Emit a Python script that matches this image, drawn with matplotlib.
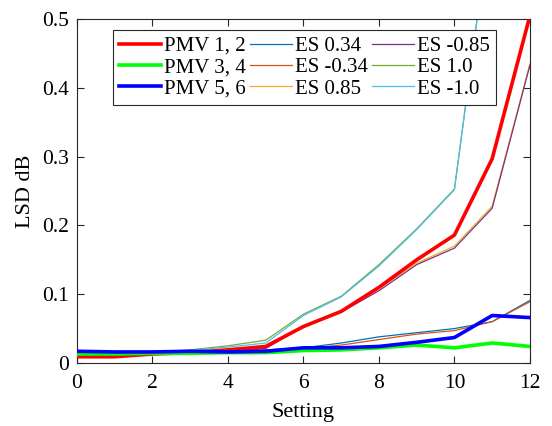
import matplotlib
matplotlib.use('Agg')
import matplotlib.pyplot as plt

plt.rcParams['font.family'] = ['Liberation Serif', 'DejaVu Serif']

setting = list(range(13))

pmv_12 = [0.009, 0.009, 0.013, 0.015, 0.019, 0.024, 0.053, 0.075, 0.110, 0.150, 0.186, 0.297, 0.505]
pmv_34 = [0.013, 0.013, 0.014, 0.014, 0.015, 0.015, 0.018, 0.019, 0.022, 0.026, 0.022, 0.029, 0.024]
pmv_56 = [0.017, 0.016, 0.016, 0.017, 0.016, 0.017, 0.022, 0.022, 0.024, 0.030, 0.037, 0.069, 0.066]

es_p034 = [0.013, 0.013, 0.014, 0.017, 0.018, 0.019, 0.022, 0.029, 0.038, 0.044, 0.050, 0.060, 0.091]
es_m034 = [0.009, 0.010, 0.014, 0.016, 0.017, 0.018, 0.021, 0.026, 0.034, 0.042, 0.047, 0.060, 0.089]
es_p085 = [0.010, 0.011, 0.013, 0.015, 0.018, 0.022, 0.054, 0.075, 0.108, 0.145, 0.170, 0.228, 0.435]
es_m085 = [0.010, 0.011, 0.013, 0.015, 0.017, 0.021, 0.053, 0.074, 0.105, 0.143, 0.167, 0.225, 0.433]
es_p100 = [0.011, 0.012, 0.015, 0.019, 0.025, 0.033, 0.071, 0.097, 0.143, 0.195, 0.253, 0.665, 1.0]
es_m100 = [0.011, 0.012, 0.015, 0.018, 0.023, 0.029, 0.069, 0.096, 0.141, 0.194, 0.252, 0.665, 1.0]

fig = plt.figure(figsize=(5.52, 4.26), dpi=100)
ax = fig.add_axes([0.1395, 0.148, 0.8205, 0.807])

thick = 2.6
thin = 0.9
h1, = ax.plot(setting, pmv_12, color=(1, 0, 0), lw=thick, label='PMV 1, 2', zorder=3)
h2, = ax.plot(setting, pmv_34, color=(0, 1, 0), lw=thick, label='PMV 3, 4', zorder=3)
h3, = ax.plot(setting, pmv_56, color=(0, 0, 1), lw=thick, label='PMV 5, 6', zorder=3)
h4, = ax.plot(setting, es_p034, color='#0072BD', lw=thin, label='ES 0.34')
h5, = ax.plot(setting, es_m034, color='#D95319', lw=thin, label='ES -0.34')
h6, = ax.plot(setting, es_p085, color='#EDB120', lw=thin, label='ES 0.85')
h7, = ax.plot(setting, es_m085, color='#7E2F8E', lw=thin, label='ES -0.85')
h8, = ax.plot(setting, es_p100, color='#77AC30', lw=thin, label='ES 1.0')
h9, = ax.plot(setting, es_m100, color='#4DBEEE', lw=thin, label='ES -1.0')

ax.set_xlim(0, 12)
ax.set_ylim(0, 0.5)
ax.set_xticks(range(0, 13, 2))
ax.set_yticks([0, 0.1, 0.2, 0.3, 0.4, 0.5])
ax.set_yticklabels(['0', '0.1', '0.2', '0.3', '0.4', '0.5'])
ax.tick_params(direction='in', top=True, right=True, labelsize=15.5, length=5,
               color='#262626')
ax.tick_params(axis='x', pad=8)
ax.tick_params(axis='y', pad=6)
for s in ax.spines.values():
    s.set_color('#262626')
    s.set_linewidth(0.8)
ax.set_xlabel('Setting', fontsize=16, labelpad=7)
ax.set_ylabel('LSD dB', fontsize=16, labelpad=5)

leg = ax.legend(handles=[h1, h2, h3, h4, h5, h6, h7, h8, h9], ncol=3,
                loc='upper left', bbox_to_anchor=(0.0795, 0.968), borderaxespad=0,
                fontsize=15, handlelength=2.0, handletextpad=0.15, columnspacing=0.2,
                labelspacing=0.08, borderpad=0.3, fancybox=False, framealpha=1,
                edgecolor='#262626')
leg.get_frame().set_linewidth(0.8)

fig.savefig('out.png', dpi=100)
